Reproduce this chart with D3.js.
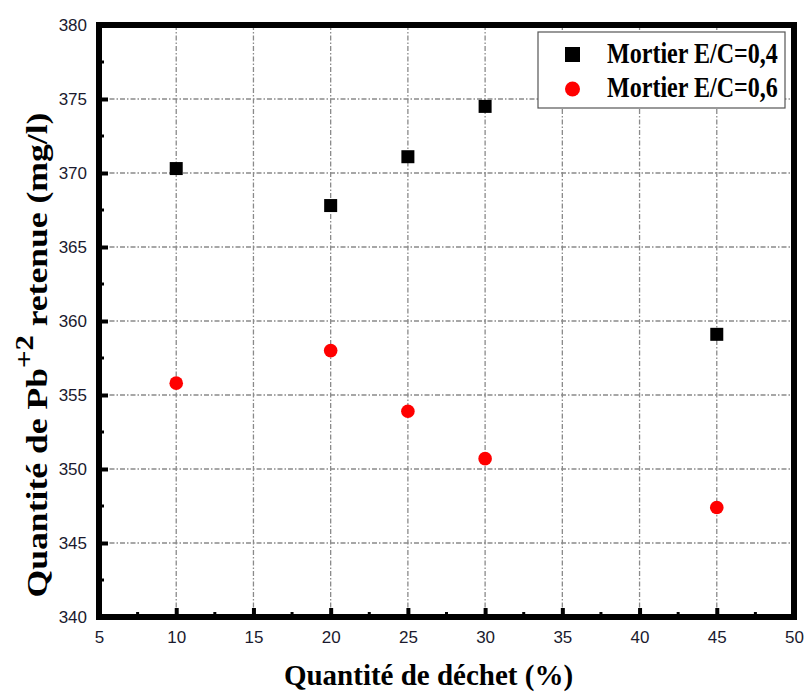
<!DOCTYPE html>
<html>
<head>
<meta charset="utf-8">
<script src="https://cdn.jsdelivr.net/npm/d3@7"></script>
<style>
  body { margin: 0; background: white; }
  .tick text { font-family: "Liberation Sans", Arial, sans-serif; font-size: 17px; fill: #1a1a2e; }
</style>
</head>
<body>
<svg width="808" height="693"></svg>
<script>
// data
const wasteQty = [10, 20, 25, 30, 45]
const retained04 = [370.3, 367.8, 371.1, 374.5, 359.1]
const retained06 = [355.8, 358.0, 353.9, 350.7, 347.4]
const seriesNames = ['Mortier E/C=0,4', 'Mortier E/C=0,6']
const xTicks = [5, 10, 15, 20, 25, 30, 35, 40, 45, 50]
const yTicks = [340, 345, 350, 355, 360, 365, 370, 375, 380]

const serif = '"Liberation Serif", "Times New Roman", serif'

const svg = d3.select('svg')
const margin = {top: 25, left: 99, right: 14, bottom: 76}
const width = +svg.attr('width')
const height = +svg.attr('height')
const innerW = width - margin.left - margin.right
const innerH = height - margin.top - margin.bottom

const x = d3.scaleLinear().domain([5, 50]).range([0, innerW])
const y = d3.scaleLinear().domain([340, 380]).range([innerH, 0])

const g = svg.append('g').attr('transform', `translate(${margin.left},${margin.top})`)

// squeeze/stretch a text horizontally so it takes a given length
const fitText = (sel, px, py, target, rotate) => {
    const len = sel.node().getComputedTextLength()
    sel.attr('transform', `translate(${px},${py})${rotate ? ' rotate(-90)' : ''} scale(${target / len},1)`)
}

// grid, dash-dot grey
const gridStyle = sel => sel.attr('stroke', '#8a8a8a').attr('stroke-width', 1.3)
    .attr('stroke-dasharray', '5,2,1.5,2')
g.append('g').selectAll('line')
    .data(xTicks.slice(1, -1))
    .enter().append('line')
    .attr('x1', d => x(d)).attr('x2', d => x(d))
    .attr('y1', 0).attr('y2', innerH)
    .call(gridStyle)
g.append('g').selectAll('line')
    .data(yTicks.slice(1, -1))
    .enter().append('line')
    .attr('y1', d => y(d)).attr('y2', d => y(d))
    .attr('x1', 0).attr('x2', innerW)
    .call(gridStyle)

// axes - ticks pointing inward
const xAxis = d3.axisBottom(x).tickValues(xTicks).tickSize(-9).tickPadding(14).tickFormat(d3.format('d'))
const yAxis = d3.axisLeft(y).tickValues(yTicks).tickSize(-9).tickPadding(12).tickFormat(d3.format('d'))

const xAxisG = g.append('g').attr('transform', `translate(0,${innerH})`).call(xAxis)
const yAxisG = g.append('g').call(yAxis)
xAxisG.select('.domain').remove()
yAxisG.select('.domain').remove()
xAxisG.selectAll('.tick line').attr('stroke', 'black').attr('stroke-width', 4)
yAxisG.selectAll('.tick line').attr('stroke', 'black').attr('stroke-width', 4)

// minor ticks
const xMinor = d3.range(7.5, 50, 5)
const yMinor = d3.range(342.5, 380, 5)
g.append('g').selectAll('line').data(xMinor).enter().append('line')
    .attr('x1', d => x(d)).attr('x2', d => x(d))
    .attr('y1', innerH).attr('y2', innerH - 5)
    .attr('stroke', 'black').attr('stroke-width', 3)
g.append('g').selectAll('line').data(yMinor).enter().append('line')
    .attr('y1', d => y(d)).attr('y2', d => y(d))
    .attr('x1', 0).attr('x2', 5)
    .attr('stroke', 'black').attr('stroke-width', 3)

// frame
g.append('rect')
    .attr('width', innerW).attr('height', innerH)
    .attr('fill', 'none').attr('stroke', 'black').attr('stroke-width', 6)

// points
const sq = 13
g.append('g').selectAll('rect')
    .data(wasteQty.map((d, i) => ({x: d, v: retained04[i]})))
    .enter().append('rect')
    .attr('x', d => x(d.x) - sq / 2)
    .attr('y', d => y(d.v) - sq / 2)
    .attr('width', sq).attr('height', sq)
    .attr('fill', 'black')

g.append('g').selectAll('circle')
    .data(wasteQty.map((d, i) => ({x: d, v: retained06[i]})))
    .enter().append('circle')
    .attr('cx', d => x(d.x))
    .attr('cy', d => y(d.v))
    .attr('r', 6.8)
    .attr('fill', '#ff0000')

// legend
const legendG = svg.append('g').attr('transform', 'translate(538,32)')
legendG.append('rect')
    .attr('width', 247).attr('height', 76)
    .attr('fill', 'white').attr('stroke', '#555').attr('stroke-width', 1.2)
legendG.append('rect').attr('x', 27).attr('y', 15).attr('width', 15).attr('height', 15).attr('fill', 'black')
legendG.append('circle').attr('cx', 34.5).attr('cy', 57).attr('r', 7.5).attr('fill', '#ff0000')
seriesNames.forEach((name, i) => {
    const t = legendG.append('text')
        .attr('font-family', serif)
        .attr('font-weight', 'bold')
        .attr('font-size', 29)
        .attr('fill', 'black')
        .text(name)
    fitText(t, 69, 31 + i * 34, 171, false)
})

// axis titles
svg.append('text')
    .attr('x', margin.left + innerW / 2 - 18)
    .attr('y', 685)
    .attr('text-anchor', 'middle')
    .attr('font-family', serif)
    .attr('font-weight', 'bold')
    .attr('font-size', 29)
    .text('Quantité de déchet (%)')

const yTitle = svg.append('text')
    .attr('text-anchor', 'middle')
    .attr('font-family', serif)
    .attr('font-weight', 'bold')
    .attr('font-size', 29)
yTitle.append('tspan').text('Quantité de Pb')
yTitle.append('tspan').attr('dy', -14).attr('font-size', 25).text('+2')
yTitle.append('tspan').attr('dy', 14).text(' retenue (mg/l)')
fitText(yTitle, 47, 355, 485, true)
</script>
</body>
</html>
